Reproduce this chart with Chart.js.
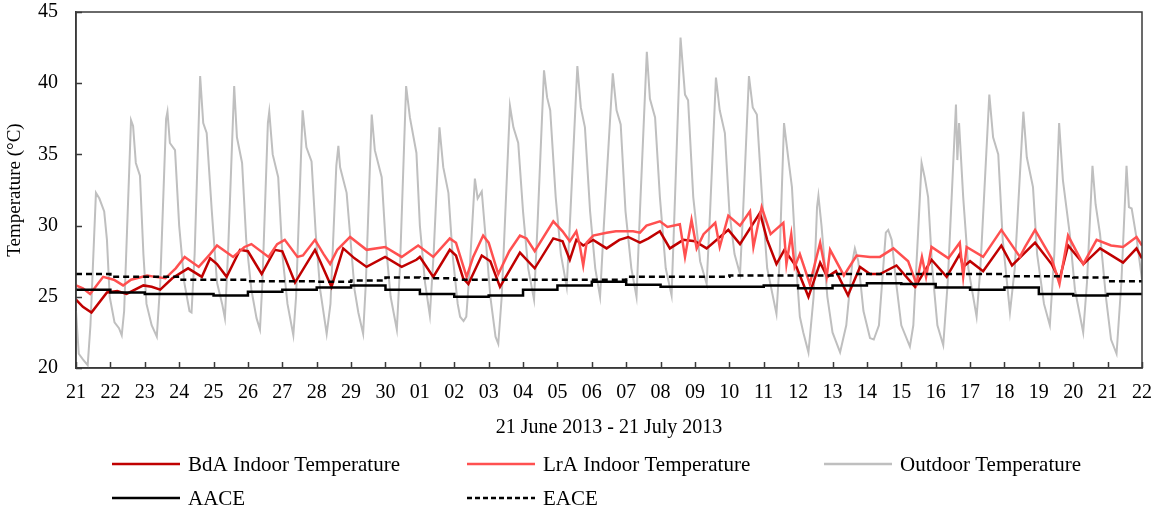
<!DOCTYPE html>
<html>
<head>
<meta charset="utf-8">
<script src="https://cdn.jsdelivr.net/npm/chart.js@4.4.0/dist/chart.umd.min.js"></script>
<style>
  html, body { margin: 0; padding: 0; background: #fff; }
  #wrap { width: 1153px; height: 510px; position: relative; }
</style>
</head>
<body>
<div id="wrap"><canvas id="myChart"></canvas></div>
<script>
// tick labels, one per day boundary (21 June .. 22 July)
const dayLabels = ['21','22','23','24','25','26','27','28','29','30',
  '01','02','03','04','05','06','07','08','09','10','11','12','13','14','15','16','17','18','19','20','21','22'];

// [day offset, °C]
const outdoorTemp = [
  [0,24.0],[0.08,21.0],[0.2,20.6],[0.34,20.2],[0.42,23.0],[0.58,32.3],[0.68,31.9],[0.82,31.0],[0.9,29.0],[0.98,25.0],
  [1.12,23.2],[1.25,22.8],[1.33,22.3],[1.4,24.0],[1.6,37.4],[1.66,37.0],[1.74,34.4],[1.86,33.5],[1.96,28.0],
  [2.05,24.5],[2.2,23.0],[2.35,22.2],[2.45,26.0],[2.62,37.5],[2.66,38.0],[2.73,35.8],[2.88,35.3],[3.0,30.0],
  [3.15,26.0],[3.3,24.0],[3.36,23.9],[3.45,28.0],[3.61,40.5],[3.7,37.2],[3.8,36.5],[3.95,31.0],
  [4.1,26.0],[4.25,24.5],[4.33,23.5],[4.42,28.0],[4.6,39.8],[4.68,36.2],[4.83,34.4],[4.95,29.0],
  [5.1,25.5],[5.25,23.5],[5.35,22.7],[5.42,26.0],[5.58,37.2],[5.62,38.0],[5.72,35.0],[5.88,33.4],[6.0,28.0],
  [6.15,24.5],[6.32,22.3],[6.4,25.0],[6.59,38.1],[6.7,35.5],[6.85,34.5],[6.97,29.5],
  [7.1,25.5],[7.29,22.4],[7.4,24.5],[7.57,34.2],[7.63,35.6],[7.68,34.1],[7.87,32.3],[8.0,28.5],
  [8.1,25.5],[8.21,23.9],[8.35,22.4],[8.43,26.0],[8.6,37.8],[8.69,35.3],[8.89,33.4],[9.0,29.0],
  [9.15,25.0],[9.33,22.7],[9.42,27.0],[9.6,39.8],[9.71,37.6],[9.9,35.1],[10.0,30.0],
  [10.15,26.0],[10.29,23.7],[10.4,28.0],[10.57,36.9],[10.68,34.1],[10.83,32.3],[10.95,28.0],
  [11.1,24.5],[11.17,23.6],[11.27,23.3],[11.35,23.6],[11.45,27.0],[11.6,33.3],[11.68,31.9],[11.8,32.4],[11.9,29.5],
  [12.05,25.0],[12.2,22.2],[12.28,21.7],[12.38,25.0],[12.62,38.4],[12.72,36.9],[12.86,35.8],[13.0,31.0],
  [13.15,27.0],[13.32,24.8],[13.42,30.0],[13.61,40.9],[13.7,39.0],[13.79,38.1],[13.95,32.0],
  [14.1,28.0],[14.27,25.7],[14.38,31.0],[14.58,41.2],[14.68,38.3],[14.8,36.9],[14.95,31.0],
  [15.1,27.0],[15.24,25.0],[15.35,30.0],[15.61,40.7],[15.72,38.1],[15.84,37.1],[15.98,31.0],
  [16.15,27.0],[16.3,25.0],[16.4,31.0],[16.6,42.2],[16.69,38.9],[16.84,37.6],[16.98,32.0],
  [17.15,27.0],[17.32,25.1],[17.42,32.0],[17.58,43.2],[17.71,39.2],[17.8,38.8],[17.95,32.0],
  [18.15,27.5],[18.34,25.9],[18.44,31.0],[18.61,40.4],[18.72,38.1],[18.87,36.5],[19.0,31.0],
  [19.15,28.0],[19.31,26.6],[19.4,31.0],[19.57,40.5],[19.68,38.3],[19.8,37.8],[19.95,32.0],
  [20.1,27.0],[20.37,23.8],[20.45,27.0],[20.59,37.2],[20.72,34.6],[20.82,32.7],[20.95,27.0],
  [21.05,23.6],[21.15,22.5],[21.3,21.1],[21.45,25.0],[21.55,31.3],[21.59,32.1],[21.68,30.0],[21.85,25.0],
  [22.0,22.5],[22.22,21.1],[22.4,23.0],[22.58,27.5],[22.65,28.4],[22.75,27.5],[22.9,24.0],
  [23.09,22.1],[23.2,22.0],[23.35,23.0],[23.55,29.5],[23.62,29.7],[23.72,29.0],[23.85,26.0],
  [24.0,23.0],[24.25,21.5],[24.35,23.0],[24.52,31.0],[24.59,34.4],[24.68,33.4],[24.78,32.0],[24.9,27.0],
  [25.05,23.0],[25.22,21.6],[25.35,26.0],[25.59,38.5],[25.63,34.6],[25.68,37.2],[25.8,32.0],[25.95,27.0],
  [26.19,23.6],[26.3,27.0],[26.56,39.2],[26.67,36.2],[26.82,35.0],[26.95,29.0],
  [27.16,23.9],[27.3,27.0],[27.55,38.0],[27.65,34.8],[27.83,32.7],[27.95,28.0],
  [28.15,24.5],[28.32,23.0],[28.45,28.0],[28.59,37.2],[28.7,33.2],[28.9,29.4],
  [29.05,25.5],[29.29,22.5],[29.4,26.0],[29.56,34.2],[29.65,31.5],[29.78,29.4],[29.95,25.0],
  [30.1,22.0],[30.26,21.0],[30.4,26.0],[30.55,34.2],[30.62,31.3],[30.7,31.2],[30.85,29.0],[31.0,26.2]
];

const lraTemp = [
  [0,25.8],[0.2,25.6],[0.41,25.2],[0.79,26.4],[1.1,26.2],[1.37,25.8],[1.6,26.2],[2.07,26.5],[2.3,26.4],[2.6,26.3],
  [2.9,27.0],[3.16,27.8],[3.57,27.1],[3.9,28.0],[4.1,28.6],[4.57,27.8],[4.9,28.5],[5.1,28.7],[5.6,27.8],[5.85,28.7],
  [6.07,29.0],[6.44,27.8],[6.6,27.9],[6.95,29.0],[7.2,28.0],[7.39,27.3],[7.6,28.3],[7.97,29.2],[8.45,28.3],[8.99,28.5],
  [9.47,27.8],[9.95,28.6],[10.39,27.8],[10.87,29.1],[11.05,28.8],[11.36,26.4],[11.55,27.8],[11.84,29.3],[12.0,28.8],
  [12.28,26.6],[12.6,28.2],[12.91,29.3],[13.1,29.1],[13.34,28.2],[13.88,30.3],[14.15,29.6],[14.36,28.9],[14.55,29.6],
  [14.65,28.6],[14.75,27.2],[14.85,28.8],[15.04,29.3],[15.43,29.5],[15.7,29.6],[16.2,29.6],[16.4,29.5],[16.59,30.0],
  [16.98,30.3],[17.2,29.9],[17.56,30.1],[17.71,27.8],[17.9,30.4],[18.05,28.4],[18.25,29.4],[18.59,30.2],[18.72,28.5],
  [18.97,30.7],[19.31,30.0],[19.6,31.0],[19.7,28.5],[19.94,31.3],[20.2,29.4],[20.57,30.2],[20.66,27.3],[20.8,29.4],
  [20.9,27.1],[21.05,28.0],[21.34,25.9],[21.64,28.8],[21.83,26.4],[21.93,28.3],[22.33,26.5],[22.7,27.9],[23.09,27.8],
  [23.38,27.8],[23.77,28.4],[24.2,27.5],[24.44,25.9],[24.6,27.8],[24.72,26.4],[24.88,28.5],[25.37,27.7],[25.7,28.8],
  [25.8,26.4],[25.9,28.5],[26.38,27.8],[26.91,29.7],[27.45,27.8],[27.6,28.5],[27.89,29.7],[28.37,27.7],[28.6,25.9],
  [28.85,29.3],[29.29,27.3],[29.68,29.0],[30.1,28.6],[30.45,28.5],[30.84,29.2],[31,28.6]
];

const bdaTemp = [
  [0,24.8],[0.2,24.3],[0.45,23.9],[0.9,25.3],[1.2,25.4],[1.47,25.2],[1.96,25.8],[2.2,25.7],[2.45,25.5],[2.8,26.3],
  [3.26,27.0],[3.66,26.4],[3.9,27.7],[4.1,27.3],[4.38,26.4],[4.77,28.3],[5.0,28.2],[5.4,26.6],[5.78,28.3],[6.0,28.2],
  [6.37,26.0],[6.95,28.3],[7.1,27.5],[7.43,25.7],[7.77,28.4],[8.1,27.7],[8.45,27.1],[8.99,27.8],[9.47,27.1],[9.9,27.6],
  [10.0,27.8],[10.39,26.4],[10.87,28.3],[11.05,27.9],[11.26,26.3],[11.41,25.9],[11.8,27.9],[12.05,27.5],[12.33,25.7],
  [12.91,28.1],[13.34,27.0],[13.88,29.1],[14.15,28.9],[14.36,27.6],[14.55,29.0],[14.75,28.6],[15.04,29.0],[15.43,28.4],
  [15.8,29.0],[16.06,29.2],[16.4,28.8],[16.65,29.1],[16.98,29.6],[17.27,28.4],[17.66,29.0],[18.0,28.9],[18.34,28.4],
  [18.97,29.7],[19.31,28.7],[19.89,30.9],[20.1,29.0],[20.37,27.3],[20.6,28.3],[20.95,27.1],[21.3,25.0],[21.64,27.4],
  [21.85,26.4],[22.1,26.8],[22.45,25.1],[22.8,27.1],[23.09,26.6],[23.38,26.6],[23.86,27.2],[24.4,25.7],[24.88,27.6],
  [25.32,26.4],[25.7,28.0],[25.8,27.1],[26.0,27.5],[26.38,26.8],[26.91,28.6],[27.22,27.2],[27.89,28.8],[28.37,27.3],
  [28.6,26.2],[28.85,28.6],[29.3,27.3],[29.78,28.4],[30.45,27.4],[30.84,28.4],[31,27.7]
];

// daily comfort temperatures, one value per day
const aaceDaily = [25.5,25.3,25.2,25.2,25.1,25.35,25.5,25.65,25.8,25.5,25.2,25.0,25.1,25.5,25.8,26.05,
  25.85,25.7,25.7,25.7,25.8,25.6,25.8,25.95,25.9,25.65,25.5,25.65,25.2,25.1,25.2];
const eaceDaily = [26.6,26.4,26.4,26.2,26.2,26.1,26.1,26.05,26.15,26.35,26.3,26.2,26.2,26.2,26.2,26.2,
  26.4,26.4,26.4,26.5,26.5,26.5,26.6,26.6,26.6,26.6,26.6,26.45,26.45,26.35,26.1];

const FONT = '"Liberation Serif", "Times New Roman", serif';

const toXY = arr => arr.map(([x, y]) => ({x, y}));
const stepXY = arr => arr.map((y, i) => ({x: i, y})).concat([{x: arr.length, y: arr[arr.length - 1]}]);

const legendItems = [
  {text: 'BdA Indoor Temperature', color: '#C00000', dash: [], col: 0, row: 0},
  {text: 'LrA Indoor Temperature', color: '#FF5050', dash: [], col: 1, row: 0},
  {text: 'Outdoor Temperature', color: '#BFBFBF', dash: [], col: 2, row: 0},
  {text: 'AACE', color: '#000000', dash: [], col: 0, row: 1},
  {text: 'EACE', color: '#000000', dash: [5, 3], col: 1, row: 1}
];

// frame round the plot plus inward tick marks
const framePlugin = {
  id: 'frame',
  afterDatasetsDraw(chart) {
    const {ctx, chartArea: a, scales: {x, y}} = chart;
    ctx.save();
    ctx.strokeStyle = '#3a3a3a';
    ctx.lineWidth = 1.5;
    ctx.strokeRect(a.left, a.top, a.right - a.left, a.bottom - a.top);
    ctx.beginPath();
    x.ticks.forEach(t => {
      const px = Math.round(x.getPixelForValue(t.value)) + 0.5;
      ctx.moveTo(px, a.bottom);
      ctx.lineTo(px, a.bottom - 6);
    });
    y.ticks.forEach(t => {
      const py = Math.round(y.getPixelForValue(t.value)) + 0.5;
      ctx.moveTo(a.left, py);
      ctx.lineTo(a.left + 6, py);
    });
    ctx.stroke();
    ctx.restore();
  }
};

// legend laid out as a 3-column grid under the axis title
const gridLegend = {
  id: 'gridLegend',
  afterDraw(chart) {
    const ctx = chart.ctx;
    const colX = [112, 467, 824], rowY = [464, 498];
    ctx.save();
    ctx.font = '21px ' + FONT;
    ctx.textBaseline = 'middle';
    ctx.fillStyle = '#000';
    legendItems.forEach(it => {
      const x0 = colX[it.col], y0 = rowY[it.row];
      ctx.beginPath();
      ctx.strokeStyle = it.color;
      ctx.lineWidth = 2.5;
      ctx.setLineDash(it.dash);
      ctx.moveTo(x0, y0);
      ctx.lineTo(x0 + 68, y0);
      ctx.stroke();
      ctx.setLineDash([]);
      ctx.fillText(it.text, x0 + 76, y0 + 1);
    });
    ctx.restore();
  }
};

const line = (label, data, color, width, order, extra) => Object.assign({
  label, data, borderColor: color, backgroundColor: color, borderWidth: width,
  pointRadius: 0, tension: 0, fill: false, order
}, extra || {});

new Chart(document.getElementById('myChart'), {
  type: 'line',
  data: {
    datasets: [
      line('BdA Indoor Temperature', toXY(bdaTemp), '#C00000', 2.5, 3),
      line('LrA Indoor Temperature', toXY(lraTemp), '#FF5050', 2.5, 2),
      line('Outdoor Temperature', toXY(outdoorTemp), '#BFBFBF', 2, 4),
      line('AACE', stepXY(aaceDaily), '#000000', 2.5, 1, {stepped: 'before'}),
      line('EACE', stepXY(eaceDaily), '#000000', 2.5, 0, {stepped: 'before', borderDash: [6, 4]})
    ]
  },
  options: {
    responsive: true,
    maintainAspectRatio: false,
    animation: false,
    layout: {padding: {top: 12, right: 11, bottom: 70, left: 0}},
    plugins: {legend: {display: false}, tooltip: {enabled: false}},
    scales: {
      x: {
        type: 'linear', min: 0, max: 31,
        afterFit: s => { s.height = 72; s.paddingLeft = 0; s.paddingRight = 0; },
        ticks: {
          stepSize: 1, autoSkip: false, maxRotation: 0, padding: 13,
          color: '#000', font: {family: FONT, size: 20},
          callback: v => dayLabels[v]
        },
        grid: {drawOnChartArea: false, drawTicks: false},
        border: {color: '#3a3a3a', width: 1.5},
        title: {display: true, text: '21 June 2013 - 21 July 2013', color: '#000',
          font: {family: FONT, size: 20}, padding: {top: 0, bottom: 0}}
      },
      y: {
        min: 20, max: 45,
        afterFit: s => { s.width = 76; s.paddingTop = 0; s.paddingBottom = 0; },
        ticks: {stepSize: 5, padding: 18, color: '#000', font: {family: FONT, size: 20}},
        grid: {drawOnChartArea: false, drawTicks: false},
        border: {color: '#3a3a3a', width: 1.5},
        title: {display: true, text: 'Temperature (°C)', color: '#000',
          font: {family: FONT, size: 19}, padding: {top: 4, bottom: 0}}
      }
    }
  },
  plugins: [framePlugin, gridLegend]
});
</script>
</body>
</html>
